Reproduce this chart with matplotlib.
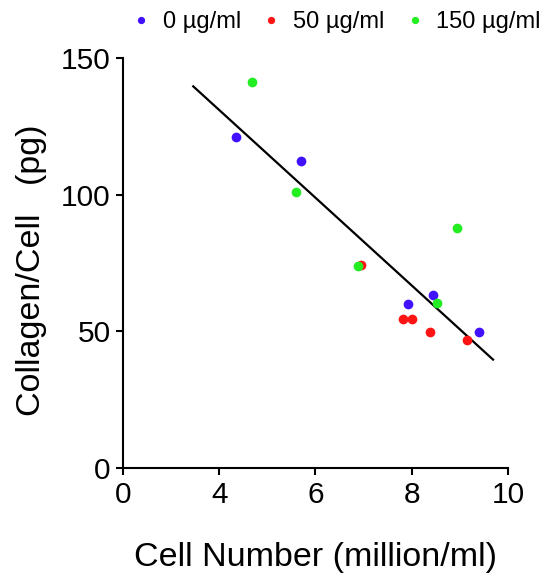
import numpy as np
import matplotlib
matplotlib.use("Agg")
import matplotlib.pyplot as plt

plt.rcParams["font.family"] = ["Liberation Sans", "DejaVu Sans"]

# Data (x in million cells/ml, y in pg collagen per cell)
x_0 = [4.35, 5.69, 7.92, 8.44, 9.40]
y_0 = [121.0, 112.4, 60.1, 63.2, 49.9]
x_50 = [6.94, 7.81, 8.01, 8.39, 9.14]
y_50 = [74.2, 54.5, 54.5, 49.9, 46.7]
x_150 = [4.69, 5.59, 6.89, 8.52, 8.94]
y_150 = [141.2, 100.9, 73.9, 60.3, 87.8]
fit_range = [3.46, 9.69]

x_ticks = [2, 4, 6, 8, 10]
x_ticklabels = ["0", "4", "6", "8", "10"]
y_ticks = [0, 50, 100, 150]

blue = "#4010ff"
red = "#ff1414"
green = "#22ee22"

fig = plt.figure(figsize=(5.5, 5.78), dpi=100)
ax = fig.add_axes([0.2236, 0.1903, 0.7, 0.7094])

# regression over all points
all_x = np.array(x_0 + x_50 + x_150)
all_y = np.array(y_0 + y_50 + y_150)
slope, intercept = np.polyfit(all_x, all_y, 1)
fx = np.array(fit_range)
ax.plot(fx, slope * fx + intercept, color="black", lw=1.6, zorder=1)

ax.plot(x_0, y_0, "o", color=blue, ms=7, mec="none", label="0 µg/ml", zorder=3)
ax.plot(x_50, y_50, "o", color=red, ms=7, mec="none", label="50 µg/ml", zorder=2)
ax.plot(x_150, y_150, "o", color=green, ms=7, mec="none", label="150 µg/ml", zorder=3)

ax.set_xlim(2, 10)
ax.set_ylim(0, 150)
ax.set_xticks(x_ticks)
ax.set_xticklabels(x_ticklabels)
ax.set_yticks(y_ticks)
ax.spines["top"].set_visible(False)
ax.spines["right"].set_visible(False)
for s in ["left", "bottom"]:
    ax.spines[s].set_linewidth(1.5)
ax.tick_params(width=1.5, length=5, labelsize=21.5, pad=4)

ax.set_xlabel("Cell Number (million/ml)", fontsize=24.5, labelpad=24)
ax.set_ylabel("Collagen/Cell   (pg)", fontsize=24.5, labelpad=10)
ax.yaxis.label.set_y(0.483)

fig.legend(loc="upper right", bbox_to_anchor=(1.0, 0.997), ncol=3, frameon=False,
           fontsize=17, markerscale=0.75, handlelength=0.9, handletextpad=0.45,
           columnspacing=0.85, borderaxespad=0.0)

fig.savefig("out.png", dpi=100)
